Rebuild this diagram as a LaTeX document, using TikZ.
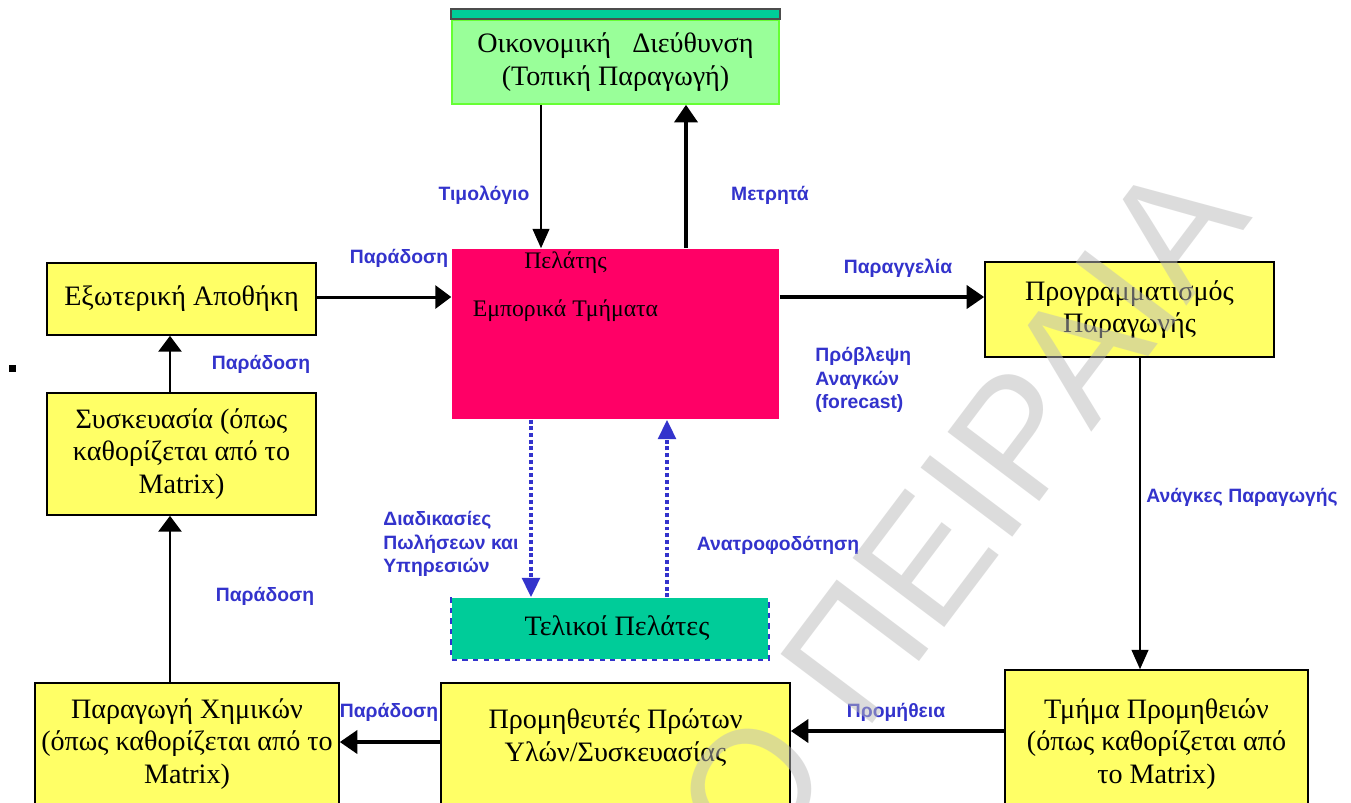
\documentclass[tikz,border=0pt]{standalone}
\usepackage{fontspec}
\setmainfont{Liberation Serif}
\newfontfamily\labelfont{Liberation Sans}
\usetikzlibrary{arrows.meta,positioning}

\definecolor{boxyellow}{HTML}{FFFF66}
\definecolor{clientred}{HTML}{FF0066}
\definecolor{fingreen}{HTML}{99FF99}
\definecolor{finborder}{HTML}{66FF33}
\definecolor{endteal}{HTML}{00CC99}
\definecolor{flowblue}{HTML}{3333CC}
\definecolor{markgray}{HTML}{BBBBBB}

\tikzset{
  box/.style={draw=black, line width=0.9pt, fill=boxyellow, align=center,
    font=\fontsize{16}{18.7}\selectfont, inner sep=0pt},
  clienttext/.style={inner sep=0pt, font=\fontsize{13.5}{16}\selectfont},
  flowlabel/.style={text=flowblue, align=left, inner sep=0pt,
    font=\labelfont\bfseries\fontsize{11}{13.5}\selectfont},
  thinflow/.style={line width=1.1pt, -{Triangle[width=9.5pt,length=11pt]}},
  midflow/.style={line width=1.7pt, -{Triangle[width=13pt,length=9pt]}},
  thickflow/.style={line width=2.4pt, -{Triangle[width=13pt,length=10pt]}},
  dotflow/.style={flowblue, line width=2.2pt, dash pattern=on 2.2pt off 1.6pt,
    -{Triangle[width=10pt,length=11pt]}},
}

\begin{document}
\begin{tikzpicture}[x=0.02cm, y=-0.02cm]
  \clip (0,0) rectangle (1351,802);
  \fill[white] (0,0) rectangle (1351,802);

  % boxes
  \node[box, fill=fingreen, draw=finborder, minimum width=6.54cm, minimum height=1.68cm]
    (fin) at (615.5,62) {Οικονομική \ \ Διεύθυνση\\(Τοπική Παραγωγή)};
  \filldraw[fill=endteal, draw=black!70, line width=0.9pt]
    ([yshift=0.2cm]fin.north west) rectangle (fin.north east);

  \node[box, fill=clientred, draw=none, minimum width=6.54cm, minimum height=3.4cm]
    (client) at (615.5,334) {};
  \node[clienttext, below=2pt of client.north, xshift=-1cm] (clienttitle) {Πελάτης};
  \node[clienttext] (clientdept) at ([xshift=-1cm, yshift=-1.24cm]client.north) {Εμπορικά Τμήματα};

  \node[box, minimum width=5.38cm, minimum height=1.44cm]
    (store) at (181.5,299) {Εξωτερική Αποθήκη};
  \node[box, minimum width=5.38cm, minimum height=2.44cm]
    (pack) at (181.5,454) {Συσκευασία (όπως\\καθορίζεται από το\\Matrix)};
  \node[box, minimum width=6.08cm, minimum height=2.44cm]
    (chem) at (187,744) {Παραγωγή Χημικών\\(όπως καθορίζεται από το\\Matrix)};
  \node[box, minimum width=6.98cm, minimum height=2.74cm]
    (supp) at (615.5,751.5) {Προμηθευτές Πρώτων\\Υλών/Συσκευασίας\\\mbox{}};
  \node[box, minimum width=6.06cm, minimum height=2.96cm]
    (proc) at (1156.5,744) {Τμήμα Προμηθειών\\(όπως καθορίζεται από\\το Matrix)};
  \node[box, minimum width=5.78cm, minimum height=1.9cm]
    (plan) at (1129.5,309.5) {Προγραμματισμός\\Παραγωγής};

  \node[box, fill=endteal, draw=none, minimum width=6.32cm, minimum height=1.22cm]
    (endc) at (610,628.5) {\hspace{0.28cm}Τελικοί Πελάτες};
  \draw[flowblue, line width=0.9pt, dashed]
    (endc.north west) -- (endc.south west) -- (endc.south east) -- (endc.north east);

  \node[fill=black, minimum size=0.14cm, inner sep=0pt] (bullet) at (12.5,368) {};

  % connectors
  \coordinate (billx) at (541,0);
  \coordinate (cashx) at (686,0);
  \coordinate (packx) at (170,0);
  \coordinate (needx) at (1140,0);
  \coordinate (salesx) at (531,0);
  \coordinate (feedx) at (667,0);
  \coordinate (orderrow) at (0,297);
  \coordinate (supplyrow) at (0,731);
  \coordinate (delrow) at (0,742);

  \draw[thinflow] (fin.south -| billx) -- (client.north -| billx);
  \draw[thickflow] (client.north -| cashx) -- (fin.south -| cashx);
  \draw[midflow] (store.east |- orderrow) -- (client.west |- orderrow);
  \draw[thickflow] (client.east |- orderrow) -- (plan.west |- orderrow);
  \draw[thinflow] (plan.south -| needx) -- (proc.north -| needx);
  \draw[thickflow] (proc.west |- supplyrow) -- (supp.east |- supplyrow);
  \draw[thickflow] (supp.west |- delrow) -- (chem.east |- delrow);
  \draw[midflow] (chem.north -| packx) -- (pack.south -| packx);
  \draw[midflow] (pack.north -| packx) -- (store.south -| packx);
  \draw[dotflow] (client.south -| salesx) -- (endc.north -| salesx);
  \draw[dotflow] (endc.north -| feedx) -- (client.south -| feedx);

  % labels
  \node[flowlabel] (billlabel) at (484,195) {Τιμολόγιο};
  \node[flowlabel] (cashlabel) at (770,195) {Μετρητά};
  \node[flowlabel] (dellabeltop) at (399,258) {Παράδοση};
  \node[flowlabel] (orderlabel) at (898,268) {Παραγγελία};
  \node[flowlabel, anchor=west] (forecastlabel) at (815,380) {Πρόβλεψη\\Αναγκών\\(forecast)};
  \node[flowlabel] (dellabelpack) at (261,364) {Παράδοση};
  \node[flowlabel] (needlabel) at (1242,497) {Ανάγκες Παραγωγής};
  \node[flowlabel, anchor=west] (saleslabel) at (383,544) {Διαδικασίες\\Πωλήσεων και\\Υπηρεσιών};
  \node[flowlabel] (feedlabel) at (778,545) {Ανατροφοδότηση};
  \node[flowlabel] (dellabelchem) at (265,596) {Παράδοση};
  \node[flowlabel] (supplylabel) at (896,712) {Προμήθεια};
  \node[flowlabel] (dellabelbottom) at (389,712) {Παράδοση};

  % watermark
  \node[rotate=53, text=markgray, text opacity=0.5, inner sep=0pt,
    font=\labelfont\fontsize{95}{95}\selectfont] (stamp) at (960,512) {Ο ΠΕΙΡΑΙΑ};
\end{tikzpicture}
\end{document}
